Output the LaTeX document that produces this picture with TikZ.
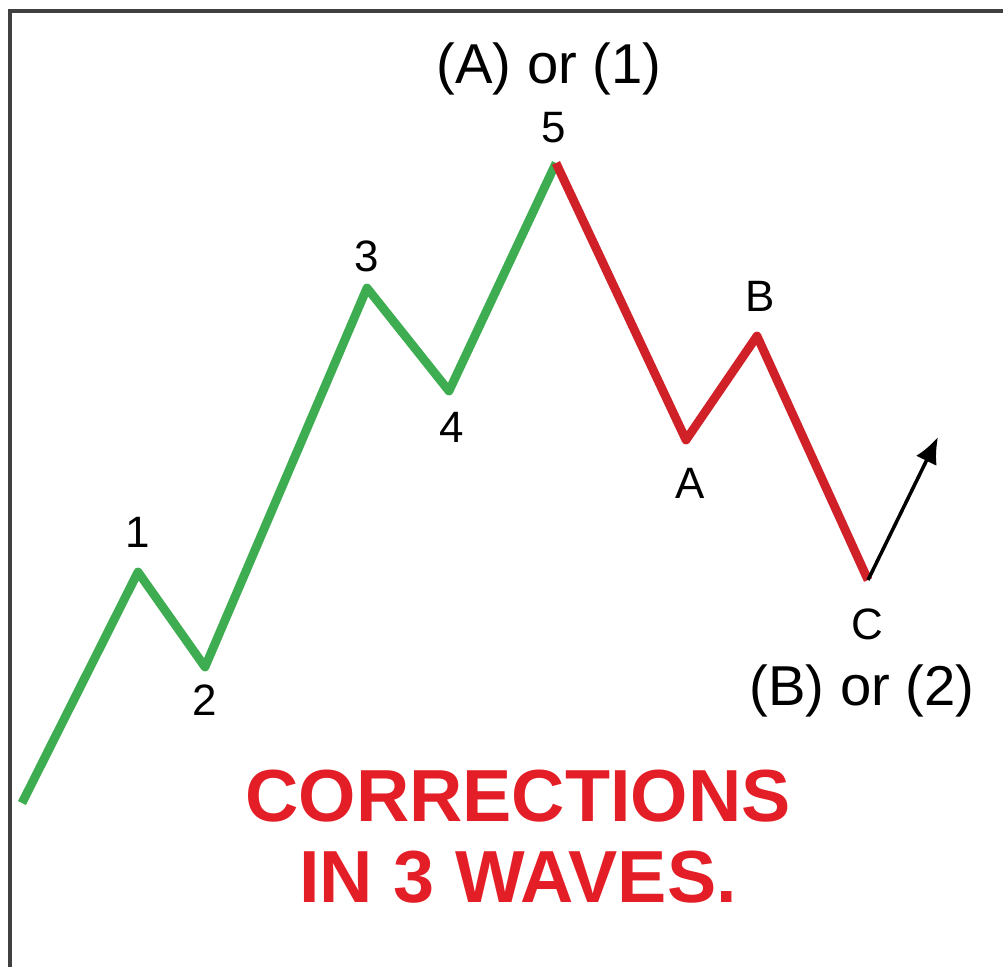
\documentclass[tikz,border=0pt]{standalone}
\usepackage{fontspec}
\setmainfont{Liberation Sans}
\usetikzlibrary{arrows.meta}
\definecolor{wavegreen}{RGB}{62,172,80}
\definecolor{wavered}{RGB}{208,32,40}
\definecolor{titlered}{RGB}{228,30,38}
\tikzset{
  wave/.style={line width=5pt,line join=round},
  lbl/.style={font=\fontsize{25}{30}\selectfont,inner sep=0pt},
  biglbl/.style={font=\fontsize{32}{38}\selectfont,inner sep=0pt},
}
\begin{document}
\begin{tikzpicture}[x=0.02cm,y=-0.02cm]
  \useasboundingbox (0,0) rectangle (1003,967);
  \draw[black!75,line width=2pt] (10,967) -- (10,11) -- (1003,11);
  % wave points
  \coordinate (w0) at (22,803);
  \coordinate (w1) at (138,572);
  \coordinate (w2) at (205,667);
  \coordinate (w3) at (367,288);
  \coordinate (w4) at (449,391);
  \coordinate (w5) at (556,163);
  \coordinate (wA) at (686,440);
  \coordinate (wB) at (757,336);
  \coordinate (wC) at (868,580);
  \coordinate (up) at (938,437);
  \draw[wave,wavegreen] (w0) -- (w1) -- (w2) -- (w3) -- (w4) -- (w5);
  \draw[wave,wavered] (w5) -- (wA) -- (wB) -- (wC);
  \draw[line width=2pt,-{Latex[length=15pt,width=13pt]}] (wC) -- (up);
  % labels
  \node[lbl] (l1) at (138,532) {1};
  \node[lbl] (l2) at (205,700) {2};
  \node[lbl] (l3) at (367,256) {3};
  \node[lbl] (l4) at (452,427) {4};
  \node[lbl] (l5) at (554,128) {5};
  \node[lbl] (lA) at (690,483) {A};
  \node[lbl] (lB) at (760,296) {B};
  \node[lbl] (lC) at (867,624) {C};
  \node[biglbl] (top) at (549,69) {(A) or (1)};
  \node[biglbl] (bot) at (862,691) {(B) or (2)};
  \node[align=center,text=titlered,font=\fontsize{42}{46}\bfseries\selectfont]
    (title) at (518,837) {CORRECTIONS\\IN 3 WAVES.};
\end{tikzpicture}
\end{document}
